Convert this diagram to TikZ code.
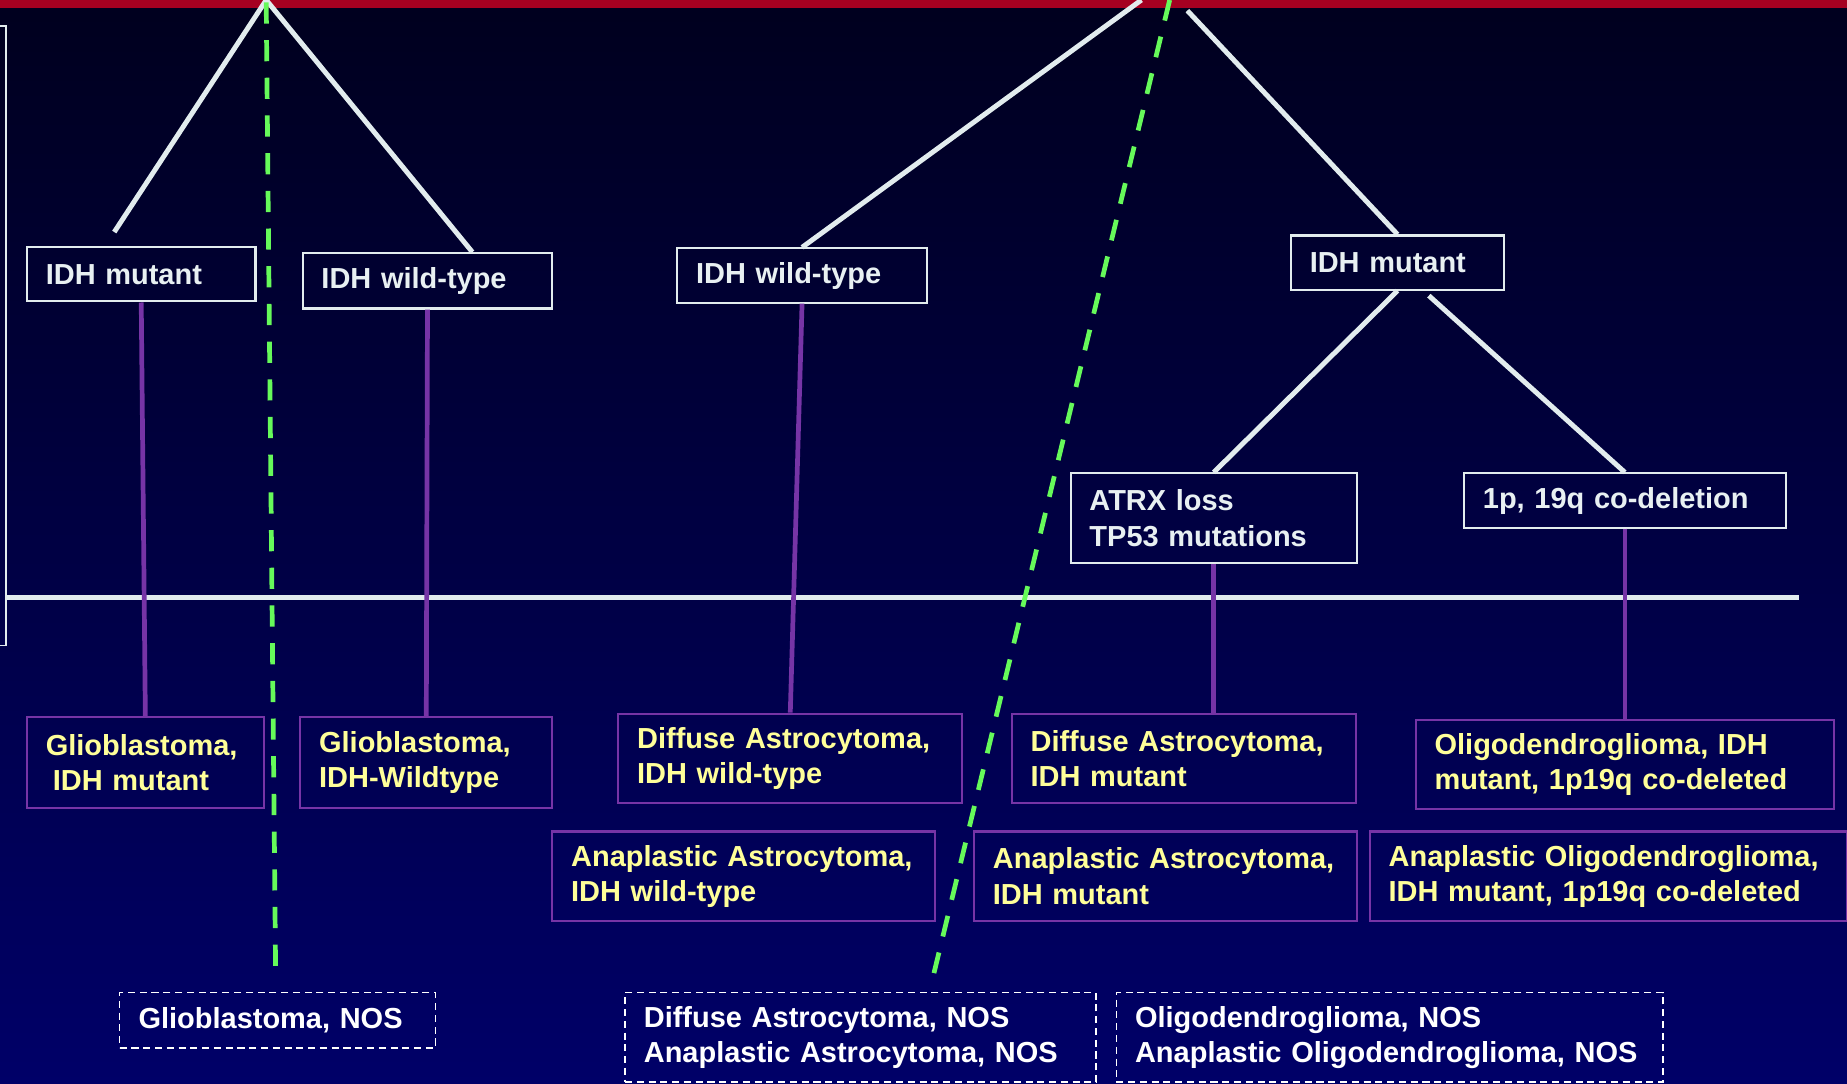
\documentclass[tikz,border=0pt]{standalone}
\usepackage{fontspec}
\setmainfont{Liberation Sans}
\usepackage{tikz}
\usetikzlibrary{positioning}
\definecolor{bartop}{RGB}{165,0,33}
\definecolor{bgtop}{RGB}{0,0,30}
\definecolor{bgbottom}{RGB}{0,0,104}
\definecolor{lightline}{RGB}{226,236,238}
\definecolor{idhpurple}{RGB}{118,52,166}
\definecolor{nosgreen}{RGB}{102,250,90}
\definecolor{palewhite}{RGB}{232,240,242}
\definecolor{paleyellow}{RGB}{255,255,153}
\newcommand{\boxfont}{\bfseries\fontsize{12.3}{15}\selectfont}
\tikzstyle{Amark}=[draw=lightline,line width=0.9pt,text=palewhite,anchor=north west,
                inner xsep=8pt,inner ysep=0pt,align=left,font=\boxfont]
\tikzstyle{Atumor}=[draw=idhpurple,line width=0.9pt,text=paleyellow,anchor=north west,
                inner xsep=8pt,inner ysep=0pt,align=left,font=\boxfont]
\tikzstyle{Anos}=[draw=white,line width=0.6pt,dash pattern=on 3pt off 2pt,text=white,
                anchor=north west,inner xsep=8pt,inner ysep=0pt,align=left,font=\boxfont]
\tikzstyle{branches}=[every edge/.style={draw=lightline,line width=2.1pt}]
\tikzstyle{stems}=[every edge/.style={draw=idhpurple,line width=2pt}]
\tikzstyle{nosline}=[every edge/.style={draw=nosgreen,line width=2pt,dash pattern=on 9pt off 7pt}]

\begin{document}
\begin{tikzpicture}[x=0.5pt,y=-0.5pt]
\path[use as bounding box] (0,0) rectangle (1568,920);
\fill[top color=bgtop,bottom color=bgbottom] (0,0) rectangle (1568,920);
\fill[bartop] (0,0) rectangle (1568,7);
\draw[lightline,line width=0.8pt] (-10,22) rectangle (5,548);
\draw[lightline,line width=2.2pt] (5,507) -- (1527,507);

\coordinate (apexL) at (226,0);
\coordinate (tipL) at (97,197);
\coordinate (wildLtop) at (401,214);
\coordinate (nosLtop) at (226,2);
\coordinate (nosLend) at (234,828);
\coordinate (apexRa) at (969,0);
\coordinate (apexRb) at (1008,9);
\coordinate (nosRtop) at (993,0);
\coordinate (nosRend) at (790,838);
\coordinate (mutRfoot) at (1213,251);

\node[Amark,text width=81pt,minimum height=23pt] (mutL) at (22,209) {IDH mutant};
\node[Amark,text width=90pt,minimum height=23.5pt] (wildL) at (256,214) {IDH wild-type};
\node[Atumor,text width=84.5pt,minimum height=38.5pt] (gbmM) at (22,608)
{Glioblastoma,\\\hspace*{3pt}IDH mutant};
\node[Atumor,text width=91pt,minimum height=38.5pt] (gbmW) at (254,608)
{Glioblastoma,\\IDH-Wildtype};
\node[Anos,text width=118pt,minimum height=23.5pt] (gbmNOS) at (101,842) {Glioblastoma, NOS};

\node[Amark,text width=90pt,minimum height=23pt] (wildR) at (574,210) {IDH wild-type};
\node[Atumor,text width=130pt,minimum height=38pt] (daW) at (524,605)
{Diffuse Astrocytoma,\\IDH wild-type};
\node[Atumor,text width=146.5pt,minimum height=38pt] (aaW) at (468,705)
{Anaplastic Astrocytoma,\\IDH wild-type};

\node[Amark,text width=74.5pt,minimum height=23pt] (mutR) at (1095,199) {IDH mutant};
\node[Amark,text width=105.5pt,minimum height=38pt] (atrx) at (908,401)
{ATRX loss\\TP53 mutations};
\node[Amark,text width=120.5pt,minimum height=23pt] (codel) at (1242,401) {1p, 19q co-deletion};
\node[Atumor,text width=130pt,minimum height=38pt] (daM) at (858,605)
{Diffuse Astrocytoma,\\IDH mutant};
\node[Atumor,text width=146.5pt,minimum height=38pt] (aaM) at (826,705)
{Anaplastic Astrocytoma,\\IDH mutant};
\node[Atumor,text width=161.5pt,minimum height=38pt] (oligo) at (1201,610)
{Oligodendroglioma, IDH\\mutant, 1p19q co-deleted};
\node[Atumor,text width=186.5pt,minimum height=38pt] (aoligo) at (1162,705)
{Anaplastic Oligodendroglioma,\\IDH mutant, 1p19q co-deleted};
\node[Anos,text width=184pt,minimum height=38pt] (astroNOS) at (530,842)
{Diffuse Astrocytoma, NOS\\Anaplastic Astrocytoma, NOS};
\node[Anos,text width=216pt,minimum height=38pt] (oligoNOS) at (947,842)
{Oligodendroglioma, NOS\\Anaplastic Oligodendroglioma, NOS};

\path[branches]
(apexL) edge (tipL) (apexL) edge (wildLtop)
(apexRa) edge (wildR.north) (apexRb) edge (mutR.north)
(mutR.south) edge (atrx.north) (mutRfoot) edge (codel.north)
;
\path[stems]
(mutL.south) edge (gbmM.north)
(wildL.south) edge (gbmW.north)
(wildR.south) edge (daW.north)
(atrx.south) edge (atrx.south |- daM.north)
(codel.south) edge (oligo.north)
;
\path[nosline]
(nosLtop) edge (nosLend)
(nosRtop) edge (nosRend)
;
\end{tikzpicture}
\end{document}
